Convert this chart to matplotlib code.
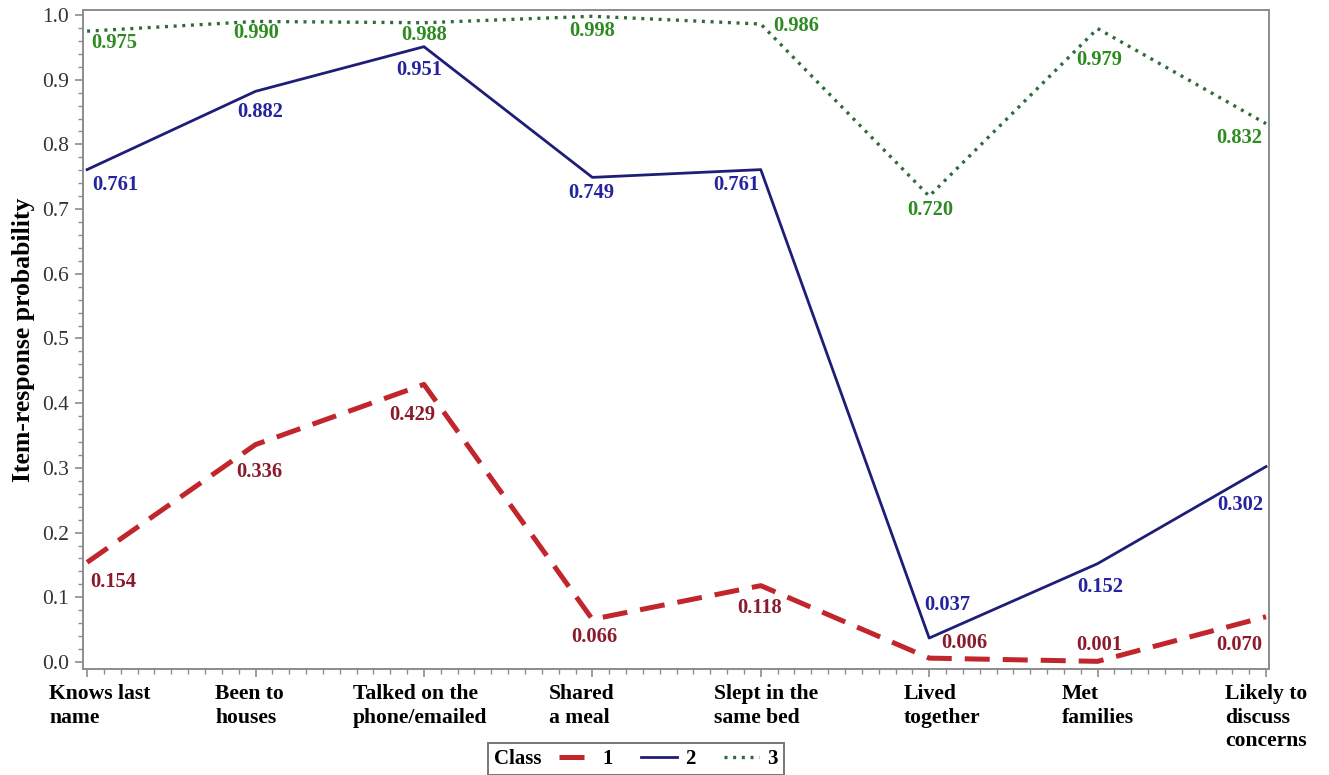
import matplotlib
matplotlib.use("Agg")
import matplotlib.pyplot as plt
from matplotlib.ticker import MultipleLocator, FormatStrFormatter
from matplotlib.transforms import ScaledTranslation
from matplotlib.offsetbox import HPacker

categories = ["Knows last\nname", "Been to\nhouses", "Talked on the\nphone/emailed",
              "Shared\na meal", "Slept in the\nsame bed", "Lived\ntogether",
              "Met\nfamilies", "Likely to\ndiscuss\nconcerns"]
class1 = [0.154, 0.336, 0.429, 0.066, 0.118, 0.006, 0.001, 0.070]
class2 = [0.761, 0.882, 0.951, 0.749, 0.761, 0.037, 0.152, 0.302]
class3 = [0.975, 0.990, 0.988, 0.998, 0.986, 0.720, 0.979, 0.832]
class_names = ["1", "2", "3"]

# label placement styles (pixel offsets, alignment)
off1 = [(3, -20, 'left'), (4, -27, 'center'), (-12, -31, 'center'), (2, -18, 'center'),
        (-1, -22, 'center'), (35, 15, 'center'), (2, 16, 'center'), (-4, -28, 'right')]
off2 = [(5, -15, 'left'), (5, -21, 'center'), (-5, -23, 'center'), (-1, -16, 'center'),
        (-2, -15, 'right'), (18, 33, 'center'), (3, -23, 'center'), (-3, -38, 'right')]
off3 = [(4, -12, 'left'), (1, -12, 'center'), (0, -12, 'center'), (0, -15, 'center'),
        (12, -2, 'left'), (1, -14, 'center'), (2, -31, 'center'), (-4, -14, 'right')]
xlabel_shift_px = [13, -6, -4, -11, 5, 13, 0, 0]

SERIF = "Liberation Serif"
plt.rcParams['font.family'] = [SERIF, 'DejaVu Serif']

fig = plt.figure(figsize=(13.29, 7.75), dpi=100)
ax = fig.add_axes([0.0625, 0.1368, 0.8924, 0.8503])

x = list(range(len(categories)))
l1, = ax.plot(x, class1, color='#C0262C', lw=3.6, linestyle=(0, (5, 2.6)), solid_capstyle='butt')
l2, = ax.plot(x, class2, color='#1E1E78', lw=2.0, linestyle='-')
l3, = ax.plot(x, class3, color='#2F6B38', lw=2.4, linestyle=(0, (0.9, 1.7)))

def put_labels(vals, offs, color):
    for i, (v, (dx, dy, ha)) in enumerate(zip(vals, offs)):
        ax.annotate(f"{v:.3f}", (i, v), xytext=(dx, dy), textcoords='offset pixels',
                    ha=ha, va='center', fontsize=14.8, fontweight='bold', color=color,
                    family=SERIF)

put_labels(class1, off1, '#8A1A2C')
put_labels(class2, off2, '#2424A0')
put_labels(class3, off3, '#2E8B22')

ax.set_xlim(-0.024, 7.018)
ax.set_ylim(-0.0108, 1.0077)
ax.yaxis.set_major_locator(MultipleLocator(0.1))
ax.yaxis.set_minor_locator(MultipleLocator(0.02))
ax.yaxis.set_major_formatter(FormatStrFormatter('%.1f'))
ax.set_xticks(x)
ax.xaxis.set_minor_locator(MultipleLocator(0.1))

for s in ax.spines.values():
    s.set_color('#8C8C8C')
    s.set_linewidth(1.4)
ax.tick_params(axis='both', which='major', direction='out', length=6, width=1.2, color='#8C8C8C')
ax.tick_params(axis='both', which='minor', direction='out', length=3.5, width=1.0, color='#8C8C8C')
ax.tick_params(axis='x', which='major', pad=5)
ax.tick_params(axis='y', which='major', pad=4)

ax.set_xticklabels(categories, fontsize=15.6, fontweight='bold', multialignment='left',
                   linespacing=1.22)
for t, sh in zip(ax.get_xticklabels(), xlabel_shift_px):
    t.set_transform(t.get_transform() + ScaledTranslation(sh / 100, 0, fig.dpi_scale_trans))
for t in ax.get_yticklabels():
    t.set_fontsize(15.5)
    t.set_color('#333333')

ax.set_ylabel("Item-response probability", fontsize=18.5, fontweight='bold', labelpad=5)

leg = fig.legend([l1, l2, l3], class_names, loc='center', bbox_to_anchor=(0.4786, 0.0206),
                 ncol=3, title="Class", frameon=True, fancybox=False,
                 handlelength=1.7, handletextpad=0.4, columnspacing=1.35,
                 borderpad=0.3, borderaxespad=0,
                 prop={'family': SERIF, 'weight': 'bold', 'size': 15},
                 title_fontproperties={'family': SERIF, 'weight': 'bold', 'size': 15})
leg.get_frame().set_edgecolor('#555555')
leg.get_frame().set_linewidth(1.4)
try:
    fs = 15 * 100 / 72
    old = leg._legend_box
    newbox = HPacker(pad=old.pad, sep=0.6 * fs, align='center',
                     children=[leg._legend_title_box, leg._legend_handle_box])
    newbox.set_figure(fig)
    leg._legend_box = newbox
    leg._set_loc(leg._loc)
except Exception:
    pass

fig.savefig("out.png", dpi=100)
